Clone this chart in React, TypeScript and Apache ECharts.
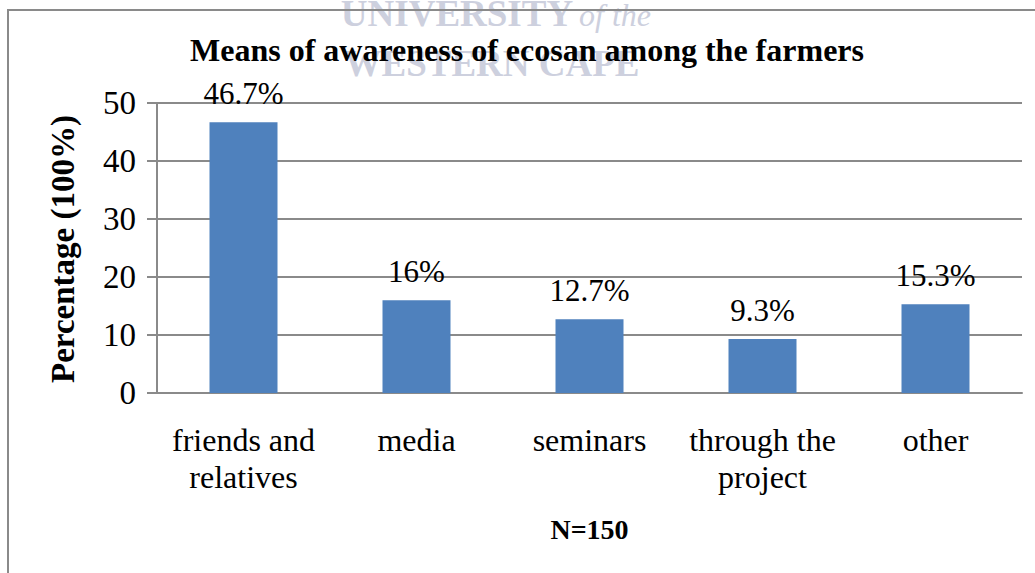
import React, { useEffect, useRef } from "react";
import * as echarts from "echarts";

const categories = ["friends and\nrelatives", "media", "seminars", "through the\nproject", "other"];
const values = [46.7, 16, 12.7, 9.3, 15.3];
const valueLabels = ["46.7%", "16%", "12.7%", "9.3%", "15.3%"];
const titleText = "Means of awareness of ecosan among the farmers";
const yName = "Percentage (100%)";
const xName = "N=150";

const SERIF = "Liberation Serif";

export default function App() {
  const ref = useRef<HTMLDivElement>(null);
  useEffect(() => {
    document.body.style.margin = "0";
    const chart = echarts.init(ref.current!, null, { renderer: "svg" });
    chart.setOption({
      animation: false,
      backgroundColor: "#ffffff",
      textStyle: { fontFamily: SERIF },
      grid: { left: 157, right: 13, top: 103, bottom: 180, containLabel: false },
      graphic: [
        {
          type: "text",
          x: 457,
          y: 13,
          style: {
            text: "UNIVERSITY",
            fill: "#cdd0de",
            fontFamily: SERIF,
            fontWeight: "bold",
            fontSize: 37,
            textAlign: "center",
            textVerticalAlign: "middle",
          },
          z: 0,
        },
        {
          type: "text",
          x: 615,
          y: 15,
          style: {
            text: "of the",
            fill: "#cdd0de",
            fontFamily: SERIF,
            fontStyle: "italic",
            fontSize: 32,
            textAlign: "center",
            textVerticalAlign: "middle",
          },
          z: 0,
        },
        {
          type: "text",
          x: 492,
          y: 63,
          style: {
            text: "WESTERN CAPE",
            fill: "#cdd0de",
            fontFamily: SERIF,
            fontWeight: "bold",
            fontSize: 37,
            textAlign: "center",
            textVerticalAlign: "middle",
          },
          z: 0,
        },
        {
          type: "rect",
          shape: { x: 8, y: 10, width: 1200, height: 800 },
          style: { fill: "none", stroke: "#8a8a8a", lineWidth: 2 },
          z: 1,
        },
        {
          type: "text",
          x: 527,
          y: 50,
          style: {
            text: titleText,
            fill: "#000000",
            fontFamily: SERIF,
            fontWeight: "bold",
            fontSize: 32,
            textAlign: "center",
            textVerticalAlign: "middle",
          },
          z: 10,
        },
        {
          type: "text",
          x: 63,
          y: 249,
          rotation: Math.PI / 2,
          style: {
            text: yName,
            fill: "#000000",
            fontFamily: SERIF,
            fontWeight: "bold",
            fontSize: 33,
            textAlign: "center",
            textVerticalAlign: "middle",
          },
          z: 10,
        },
      ],
      xAxis: {
        type: "category",
        data: categories,
        name: xName,
        nameLocation: "middle",
        nameGap: 122,
        nameTextStyle: { fontFamily: SERIF, fontWeight: "bold", fontSize: 28, color: "#000" },
        axisLine: { show: true, lineStyle: { color: "#8a8a8a", width: 2 } },
        axisTick: { show: false },
        axisLabel: {
          interval: 0,
          margin: 28,
          fontFamily: SERIF,
          fontSize: 32,
          lineHeight: 37,
          color: "#000",
          align: "center",
        },
      },
      yAxis: {
        type: "value",
        min: 0,
        max: 50,
        interval: 10,
        axisLine: { show: true, lineStyle: { color: "#8a8a8a", width: 2 } },
        axisTick: { show: true, length: 10, lineStyle: { color: "#8a8a8a", width: 2 } },
        splitLine: { show: true, lineStyle: { color: "#8a8a8a", width: 2 } },
        axisLabel: { margin: 21, fontFamily: SERIF, fontSize: 33, color: "#000" },
      },
      series: [
        {
          type: "bar",
          data: values,
          barWidth: 68,
          itemStyle: { color: "#4f81bd" },
          label: {
            show: true,
            position: "top",
            distance: 13,
            fontFamily: SERIF,
            fontSize: 31,
            color: "#000",
            formatter: (p: any) => valueLabels[p.dataIndex],
          },
        },
      ],
    });
    return () => chart.dispose();
  }, []);
  return <div ref={ref} style={{ position: "fixed", left: 0, top: 0, width: 1035, height: 573 }} />;
}
